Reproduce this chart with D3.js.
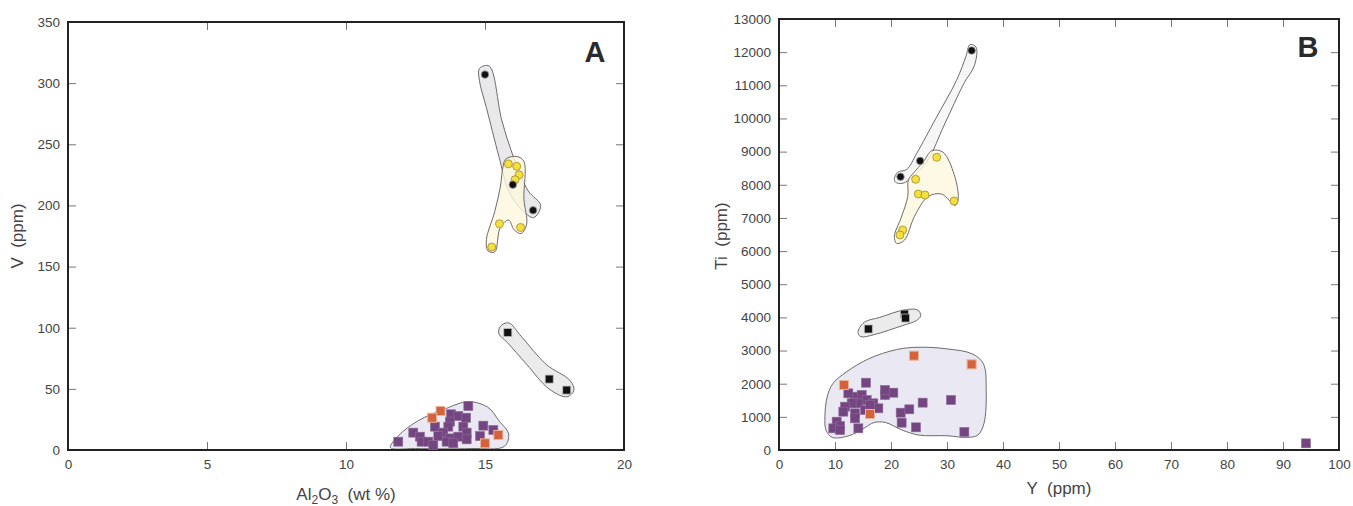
<!DOCTYPE html>
<html>
<head>
<meta charset="utf-8">
<script src="https://cdn.jsdelivr.net/npm/d3@7"></script>
<style>
  body { margin: 0; background: #fff; }
  svg { font-family: "Liberation Sans", Arial, sans-serif; }
  text { white-space: pre; }
</style>
</head>
<body>
<svg width="1353" height="506"></svg>
<script>
// ---- panel A: Al2O3 (wt %) vs V (ppm) ----
let aXTicks = [0, 5, 10, 15, 20];
let aYTicks = [0, 50, 100, 150, 200, 250, 300, 350];

let aPurple = [[14.40,36.0],[13.78,29.2],[14.04,27.8],[14.32,26.4],[13.74,23.2],[13.20,19.1],[13.68,19.1],
    [14.22,19.1],[14.94,19.9],[15.30,16.4],[12.42,14.2],[13.50,14.2],[14.34,14.2],[12.66,10.9],[13.32,11.4],
    [13.74,9.5],[14.04,10.9],[14.82,11.4],[12.72,6.8],[12.96,6.8],[13.62,6.8],[14.34,8.7],[11.88,6.8],
    [13.14,4.1],[13.86,5.5]];
let aOrange = [[13.40,31.9],[13.10,26.4],[15.48,12.3],[15.00,5.5]];
let aBlackCircles = [[15.0,307],[16.0,217],[16.73,196]];
let aYellow = [[15.84,234],[16.14,232],[16.23,225],[16.08,221],[15.52,185],[16.28,182],[15.24,166]];
let aBlackSquares = [[15.82,96],[17.31,58],[17.94,49]];

// envelopes (data units)
let aPurpleField = [[11.6,2],[11.9,12],[12.6,24],[13.5,33],[14.4,39.5],[15.1,35],[15.5,24],[15.85,13],[15.7,3],[14.5,1.2],[12.5,1.2]];
let aCircleField = [[14.8,312],[15.15,314],[15.6,270],[16.05,238],[16.55,212],[17.0,200],[16.75,190],[16.3,197],[15.85,212],[15.5,240],[15.05,280],[14.8,302]];
let aYellowField = [[15.75,238],[16.15,240],[16.4,236],[16.4,205],[16.5,185],[16.3,177],[16.05,180],[15.85,188],[15.55,182],[15.35,162],[15.1,163],[15.05,172],[15.35,195],[15.55,215],[15.65,232]];
let aSquareField = [[15.55,101],[15.85,104],[16.3,93],[17.2,70],[18.05,57],[18.2,49],[17.95,43.5],[17.3,50],[16.5,70],[15.8,88],[15.5,95]];

// ---- panel B: Y (ppm) vs Ti (ppm) ----
let bXTicks = d3.range(0, 101, 10);
let bYTicks = d3.range(0, 13001, 1000);

let bPurple = [[15.54,2030],[13.57,1608],[14.77,1659],[15.66,1508],[14.17,1408],[16.84,1408],[17.74,1257],
    [12.98,1408],[11.79,1307],[11.49,1156],[13.57,1106],[13.57,955],[15.36,1206],[18.93,1659],[20.42,1729],
    [18.93,1810],[25.65,1428],[30.71,1508],[21.73,1126],[23.27,1227],[21.9,824],[24.46,684],[33.1,543],
    [14.17,653],[10.3,854],[10.9,724],[9.7,653],[10.9,603],[12.38,1709],[16.25,1357],[94.1,201]];
let bOrange = [[11.6,1960],[24.1,2845],[34.4,2584],[16.25,1086]];
let bBlackCircles = [[34.4,12050],[25.2,8720],[21.7,8240]];
let bYellow = [[28.16,8829],[24.4,8165],[24.88,7722],[26.07,7691],[31.25,7510],[22.08,6636],[21.6,6485]];
let bBlackSquares = [[15.95,3650],[22.4,4100],[22.6,3980]];

let bPurpleField = [[8.2,1000],[8.6,1600],[9.6,2000],[12,2350],[16,2750],[21,3030],[25,3100],[30,3050],[34.5,2900],[36.5,2600],[37,1800],[36.6,800],[35.5,450],[33.5,380],[30,430],[25,450],[22,600],[19,830],[17,830],[15,640],[12.5,430],[9.5,380],[8.4,600]];
let bCircleField = [[20.6,8180],[21.2,8380],[22.8,8460],[24.6,8950],[28,10000],[31.7,11150],[33.4,11880],[34.1,12230],[35.2,12150],[34.9,11600],[33,11050],[29.5,9800],[26.6,8750],[24,8250],[22,8040],[20.8,8080]];
let bYellowField = [[25.8,8700],[27.3,9030],[29.3,8980],[31.3,8300],[32.0,7600],[31.5,7380],[29,7720],[26.6,7640],[24.2,7050],[22.4,6330],[21,6230],[20.6,6450],[21.8,7000],[23,7650],[23.1,8150],[24,8350]];
let bSquareField = [[14.1,3550],[15.2,3850],[18,4000],[22.5,4230],[24.8,4220],[25.3,4050],[24.5,3900],[22,3750],[17,3480],[14.6,3420]];

let svg = d3.select("svg");

function drawPanel(p) {
    let x = d3.scaleLinear().domain(p.xDomain).range([p.left, p.right]);
    let y = d3.scaleLinear().domain(p.yDomain).range([p.bottom, p.top]);
    let g = svg.append("g");

    let line = d3.line()
        .x(function (d) { return x(d[0]); })
        .y(function (d) { return y(d[1]); })
        .curve(d3.curveCatmullRomClosed.alpha(0.5));

    // fields
    let fields = [
        {pts: p.purpleField, fill: "#e4e2f0"},
        {pts: p.circleField, fill: p.circleFill},
        {pts: p.yellowField, fill: "#fdf8de"},
        {pts: p.squareField, fill: "#e6e6e6"}
    ];
    fields.forEach(function (f) {
        g.append("path")
            .attr("d", line(f.pts))
            .attr("fill", f.fill)
            .attr("fill-opacity", 0.8)
            .attr("stroke", "#6f6a6a")
            .attr("stroke-width", 1);
    });

    // axes with inward ticks
    let ax = [
        {a: d3.axisBottom(x).tickValues(p.xTicks).tickPadding(9), t: "translate(0," + p.bottom + ")", lab: true},
        {a: d3.axisTop(x).tickValues(p.xTicks), t: "translate(0," + p.top + ")", lab: false},
        {a: d3.axisLeft(y).tickValues(p.yTicks).tickPadding(8), t: "translate(" + p.left + ",0)", lab: true},
        {a: d3.axisRight(y).tickValues(p.yTicks), t: "translate(" + p.right + ",0)", lab: false}
    ];
    ax.forEach(function (o) {
        let axG = g.append("g")
            .attr("transform", o.t)
            .call(o.a.tickSizeInner(-8).tickSizeOuter(0).tickFormat(o.lab ? d3.format("d") : ""));
        axG.select(".domain").remove();
        axG.selectAll(".tick line").attr("stroke", "#777").attr("stroke-width", 1);
        axG.selectAll(".tick text")
            .attr("fill", "#444")
            .style("font-size", "13.5px")
            .style("font-family", "'Liberation Sans', Arial, sans-serif");
    });

    g.append("rect")
        .attr("x", p.left).attr("y", p.top)
        .attr("width", p.right - p.left).attr("height", p.bottom - p.top)
        .attr("fill", "none")
        .attr("stroke", "#222")
        .attr("stroke-width", 2);

    // points
    g.selectAll(".pu").data(p.purple).enter().append("rect")
        .attr("x", function (d) { return x(d[0]) - 4.5; })
        .attr("y", function (d) { return y(d[1]) - 4.5; })
        .attr("width", 9).attr("height", 9)
        .attr("fill", "#744681")
        .attr("stroke", "#8f6a98").attr("stroke-width", 0.6);

    g.selectAll(".or").data(p.orange).enter().append("rect")
        .attr("x", function (d) { return x(d[0]) - 4.5; })
        .attr("y", function (d) { return y(d[1]) - 4.5; })
        .attr("width", 9).attr("height", 9)
        .attr("fill", "#d4623a")
        .attr("stroke", "#eab39a").attr("stroke-width", 1);

    g.selectAll(".bs").data(p.blackSquares).enter().append("rect")
        .attr("x", function (d) { return x(d[0]) - 4; })
        .attr("y", function (d) { return y(d[1]) - 4; })
        .attr("width", 8).attr("height", 8)
        .attr("fill", "#111")
        .attr("stroke", "#bbb").attr("stroke-width", 0.8);

    g.selectAll(".ye").data(p.yellow).enter().append("circle")
        .attr("cx", function (d) { return x(d[0]); })
        .attr("cy", function (d) { return y(d[1]); })
        .attr("r", 4)
        .attr("fill", "#f6df3c")
        .attr("stroke", "#9c8d3a").attr("stroke-width", 0.8);

    g.selectAll(".bc").data(p.blackCircles).enter().append("circle")
        .attr("cx", function (d) { return x(d[0]); })
        .attr("cy", function (d) { return y(d[1]); })
        .attr("r", 3.8)
        .attr("fill", "#111")
        .attr("stroke", "#aaa").attr("stroke-width", 0.8);

    // panel letter
    g.append("text")
        .attr("x", p.letterX).attr("y", p.letterY)
        .attr("text-anchor", "middle")
        .attr("font-size", "29px")
        .attr("font-weight", "bold")
        .attr("fill", "#2a2a2a")
        .text(p.letter);

    return g;
}

let gA = drawPanel({
    xDomain: [0, 20], yDomain: [0, 350], left: 68, right: 624, top: 22, bottom: 450,
    xTicks: aXTicks, yTicks: aYTicks,
    purple: aPurple, orange: aOrange, blackCircles: aBlackCircles, yellow: aYellow, blackSquares: aBlackSquares,
    purpleField: aPurpleField, circleField: aCircleField, yellowField: aYellowField, squareField: aSquareField,
    circleFill: "#e4e4e6", letter: "A", letterX: 595, letterY: 62
});

let gB = drawPanel({
    xDomain: [0, 100], yDomain: [0, 13000], left: 779, right: 1339, top: 19, bottom: 450,
    xTicks: bXTicks, yTicks: bYTicks,
    purple: bPurple, orange: bOrange, blackCircles: bBlackCircles, yellow: bYellow, blackSquares: bBlackSquares,
    purpleField: bPurpleField, circleField: bCircleField, yellowField: bYellowField, squareField: bSquareField,
    circleFill: "#f4f4f4", letter: "B", letterX: 1308, letterY: 57
});

// axis titles
let titleStyle = function (t) {
    t.attr("fill", "#444").attr("font-size", "17px").attr("text-anchor", "middle");
};

let aX = svg.append("text").attr("x", 346).attr("y", 500).call(titleStyle);
aX.append("tspan").text("Al");
aX.append("tspan").attr("dy", 4).attr("font-size", "12px").text("2");
aX.append("tspan").attr("dy", -4).text("O");
aX.append("tspan").attr("dy", 4).attr("font-size", "12px").text("3");
aX.append("tspan").attr("dy", -4).text("  (wt %)");

svg.append("text")
    .attr("transform", "translate(23,236) rotate(-90)")
    .call(titleStyle)
    .text("V  (ppm)");

svg.append("text").attr("x", 1059).attr("y", 494).call(titleStyle).text("Y  (ppm)");

svg.append("text")
    .attr("transform", "translate(727,236) rotate(-90)")
    .call(titleStyle)
    .text("Ti  (ppm)");
</script>
</body>
</html>
